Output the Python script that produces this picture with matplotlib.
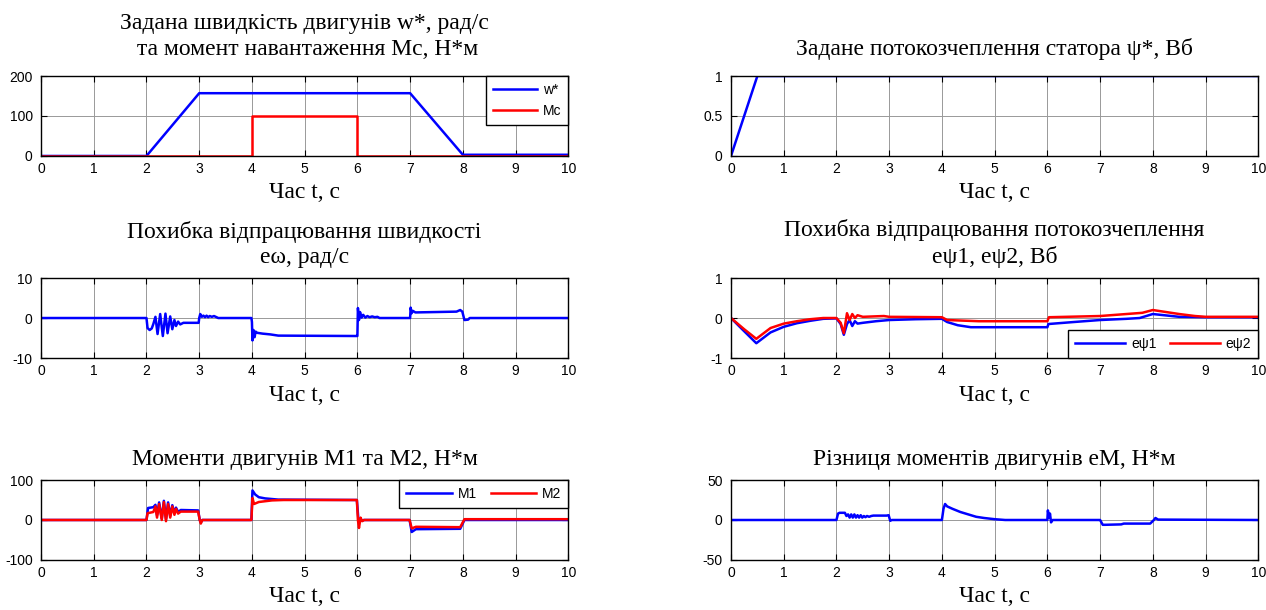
import matplotlib
matplotlib.use('Agg')
import matplotlib.pyplot as plt
from matplotlib.ticker import FormatStrFormatter

plt.rcParams['font.family'] = ['Liberation Sans', 'DejaVu Sans']
plt.rcParams['axes.unicode_minus'] = False

SERIF = ['Liberation Serif', 'DejaVu Serif']

# reference speed w* and load torque Mc
w_t = [0, 2, 3, 7, 8, 10]
w_v = [0, 0, 157, 157, 3, 3]
mc_t = [0, 4, 4, 6, 6, 10]
mc_v = [0, 0, 100, 100, 0, 0]

# reference stator flux psi*
psi_t = [0, 0.5, 10]
psi_v = [0, 1, 1]

# speed error
ew_t = [0, 2.0, 2.02, 2.06, 2.10, 2.13, 2.17, 2.21, 2.26, 2.31, 2.36, 2.40, 2.45, 2.49,
        2.53, 2.56, 2.60, 2.64, 2.70, 2.99, 3.0, 3.02, 3.05, 3.08, 3.11, 3.14, 3.17, 3.20,
        3.24, 3.28, 3.33, 3.36, 3.99, 4.0, 4.01, 4.03, 4.05, 4.07, 4.10, 4.20, 4.35, 4.50,
        5.99, 6.0, 6.01, 6.03, 6.05, 6.08, 6.11, 6.15, 6.19, 6.23, 6.28, 6.33, 6.38, 6.42,
        6.99, 7.0, 7.01, 7.03, 7.05, 7.10, 7.50, 7.88, 7.95, 7.99, 8.03, 8.10, 8.13, 10]
ew_v = [0, 0, -2.5, -3.0, -2.6, -1.5, 0.3, -4.0, 1.0, -4.5, 1.1, -3.8, 0.4, -2.8,
        -0.5, -2.0, -0.9, -1.6, -1.2, -1.2, 0.0, 1.0, 0.3, 0.6, 0.2, 0.6, 0.2, 0.5,
        0.3, 0.5, 0.2, 0.0, 0.0, -1.0, -5.6, -3.0, -4.8, -3.4, -3.7, -3.9, -4.1, -4.4,
        -4.5, -4.5, 2.5, -0.5, 1.5, 0.1, 0.8, 0.1, 0.5, 0.2, 0.4, 0.2, 0.3, 0.0,
        0.0, 0.0, 2.6, 1.2, 1.8, 1.4, 1.5, 1.6, 2.0, 1.6, -0.5, -0.4, 0.0, 0.0]

# flux errors
ep1_t = [0, 0.25, 0.48, 0.75, 1.0, 1.25, 1.5, 1.75, 2.0, 2.08, 2.14, 2.20, 2.25, 2.30,
         2.35, 2.40, 2.50, 2.75, 3.0, 3.5, 4.0, 4.1, 4.3, 4.55, 6.0, 6.02, 6.5, 7.0,
         7.5, 7.75, 8.0, 8.5, 9.0, 10]
ep1_v = [0, -0.33, -0.63, -0.36, -0.22, -0.13, -0.07, -0.02, -0.01, -0.15, -0.42, -0.15,
         -0.05, -0.2, -0.08, -0.14, -0.12, -0.08, -0.05, -0.03, -0.02, -0.1, -0.18, -0.23,
         -0.23, -0.15, -0.1, -0.05, -0.02, 0.0, 0.1, 0.03, 0.02, 0.02]
ep2_t = [0, 0.25, 0.48, 0.75, 1.0, 1.25, 1.5, 1.75, 2.0, 2.08, 2.14, 2.20, 2.25, 2.30,
         2.35, 2.40, 2.50, 2.90, 3.0, 4.0, 4.1, 4.7, 6.0, 6.03, 7.0, 7.5, 7.8, 8.0,
         8.5, 8.8, 9.0, 10]
ep2_v = [0, -0.28, -0.52, -0.25, -0.14, -0.08, -0.03, 0.0, 0.0, -0.12, -0.38, 0.12,
         -0.05, 0.1, 0.0, 0.07, 0.03, 0.05, 0.03, 0.02, -0.05, -0.08, -0.08, 0.02,
         0.05, 0.1, 0.13, 0.2, 0.1, 0.05, 0.03, 0.03]

# motor torques M1, M2
m1_t = [0, 2.0, 2.03, 2.13, 2.17, 2.20, 2.24, 2.29, 2.33, 2.37, 2.41, 2.45, 2.49, 2.53,
        2.56, 2.60, 2.65, 2.98, 3.01, 3.03, 3.06, 3.99, 4.01, 4.06, 4.13, 4.25, 4.5,
        5.99, 6.02, 6.05, 6.08, 6.12, 6.99, 7.03, 7.11, 7.95, 8.03, 10]
m1_v = [0, 0, 30, 32, 38, 12, 44, 4, 48, 2, 44, 10, 37, 17, 31, 20, 25, 24, 0, -6, 0,
        0, 74, 64, 57, 54, 51, 50, 0, 3, -2, 0, 0, -30, -23, -22, 0, 0]
m2_t = [0, 2.0, 2.02, 2.13, 2.17, 2.20, 2.24, 2.29, 2.33, 2.37, 2.41, 2.45, 2.49, 2.53,
        2.56, 2.60, 2.65, 2.98, 3.01, 3.03, 3.06, 3.99, 4.01, 4.04, 4.13, 4.38, 4.6,
        5.99, 6.01, 6.03, 6.06, 6.09, 6.13, 6.99, 7.03, 7.11, 7.95, 8.03, 10]
m2_v = [0, 0, 17, 20, 34, 6, 40, 0, 45, -3, 40, 6, 34, 13, 28, 16, 21, 21, 0, -9, 0,
        0, 55, 40, 45, 49, 50, 50, 0, -20, 6, -3, 0, 0, -21, -17, -18, 2, 2]

# torque difference eM
em_t = [0, 2.0, 2.03, 2.06, 2.16, 2.19, 2.22, 2.25, 2.28, 2.31, 2.34, 2.37, 2.40, 2.43,
        2.46, 2.49, 2.52, 2.55, 2.58, 2.62, 2.66, 2.70, 2.95, 2.99, 3.02, 3.05,
        4.0, 4.03, 4.06, 4.1, 4.2, 4.35, 4.5, 4.65, 4.8, 5.0, 5.2,
        6.0, 6.01, 6.03, 6.05, 6.07, 6.1, 7.0, 7.05, 7.1, 7.4, 7.45, 7.95, 8.02,
        8.05, 8.1, 10]
em_v = [0, 0, 8, 9, 9, 5, 7, 3, 7, 3, 7, 3, 6, 3,
        6, 3, 5, 3.5, 5, 4, 5, 5.5, 5.5, 6, -1, 0,
        0, 14, 20, 17, 14, 10, 7, 4, 2.5, 1, 0,
        0, 12, 3, 8, -3, 0, 0, -6, -6, -5.5, -4.5, -4.5, 0,
        2.5, 0.5, 0]

xlab = 'Час t, с'
BLUE = (0, 0, 1)
RED = (1, 0, 0)
LW = 1.8

fig = plt.figure(figsize=(12.66, 6.10), dpi=100)
L, R = 0.0324, 0.5774
W = 0.4165
H = 0.1311
rows = [0.7443, 0.4131, 0.0820]

ax1 = fig.add_axes([L, rows[0], W, H])
ax2 = fig.add_axes([R, rows[0], W, H])
ax3 = fig.add_axes([L, rows[1], W, H])
ax4 = fig.add_axes([R, rows[1], W, H])
ax5 = fig.add_axes([L, rows[2], W, H])
ax6 = fig.add_axes([R, rows[2], W, H])


def style(ax, ylim, yticks, title, pad=10.5):
    ax.set_xlim(0, 10)
    ax.set_ylim(*ylim)
    ax.set_xticks(range(11))
    ax.set_yticks(yticks)
    ax.yaxis.set_major_formatter(FormatStrFormatter('%g'))
    ax.grid(True, color='0.6', lw=0.7)
    ax.set_axisbelow(True)
    ax.tick_params(direction='in', top=True, right=True, length=4, width=0.8,
                   labelsize=10)
    ax.tick_params(axis='y', pad=6)
    ax.tick_params(axis='x', pad=4)
    for s in ax.spines.values():
        s.set_linewidth(1.0)
    ax.set_xlabel(xlab, fontsize=17, family=SERIF, labelpad=5)
    ax.set_title(title, fontsize=17, family=SERIF, pad=pad, linespacing=1.3)


def leg(ax, loc, ncol, hl):
    lg = ax.legend(loc=loc, ncol=ncol, borderaxespad=0, fancybox=False,
                   edgecolor='black', framealpha=1, fontsize=10,
                   handlelength=hl, columnspacing=1.0, handletextpad=0.4,
                   borderpad=0.5)
    lg.get_frame().set_linewidth(1.0)


ax1.plot(w_t, w_v, color=BLUE, lw=LW, label='w*')
ax1.plot(mc_t, mc_v, color=RED, lw=LW, label='Mc')
style(ax1, (0, 200), [0, 100, 200],
      'Задана швидкість двигунів w*, рад/с\n та момент навантаження Mc, Н*м', pad=15)
leg(ax1, 'upper right', 1, 3.2)

ax2.plot(psi_t, psi_v, color=BLUE, lw=LW)
style(ax2, (0, 1), [0, 0.5, 1], 'Задане потокозчеплення статора ψ*, Вб', pad=15)

ax3.plot(ew_t, ew_v, color=BLUE, lw=LW)
style(ax3, (-10, 10), [-10, 0, 10],
      'Похибка відпрацювання швидкості\neω, рад/с')

ax4.plot(ep1_t, ep1_v, color=BLUE, lw=LW, label='eψ1')
ax4.plot(ep2_t, ep2_v, color=RED, lw=LW, label='eψ2')
style(ax4, (-1, 1), [-1, 0, 1],
      'Похибка відпрацювання потокозчеплення\neψ1, eψ2, Вб')
leg(ax4, 'lower right', 2, 3.6)

ax5.plot(m1_t, m1_v, color=BLUE, lw=LW, label='M1')
ax5.plot(m2_t, m2_v, color=RED, lw=LW, label='M2')
style(ax5, (-100, 100), [-100, 0, 100], 'Моменти двигунів M1 та M2, Н*м')
leg(ax5, 'upper right', 2, 3.3)

ax6.plot(em_t, em_v, color=BLUE, lw=LW)
style(ax6, (-50, 50), [-50, 0, 50], 'Різниця моментів двигунів eM, Н*м')

fig.savefig('out.png', dpi=100)
